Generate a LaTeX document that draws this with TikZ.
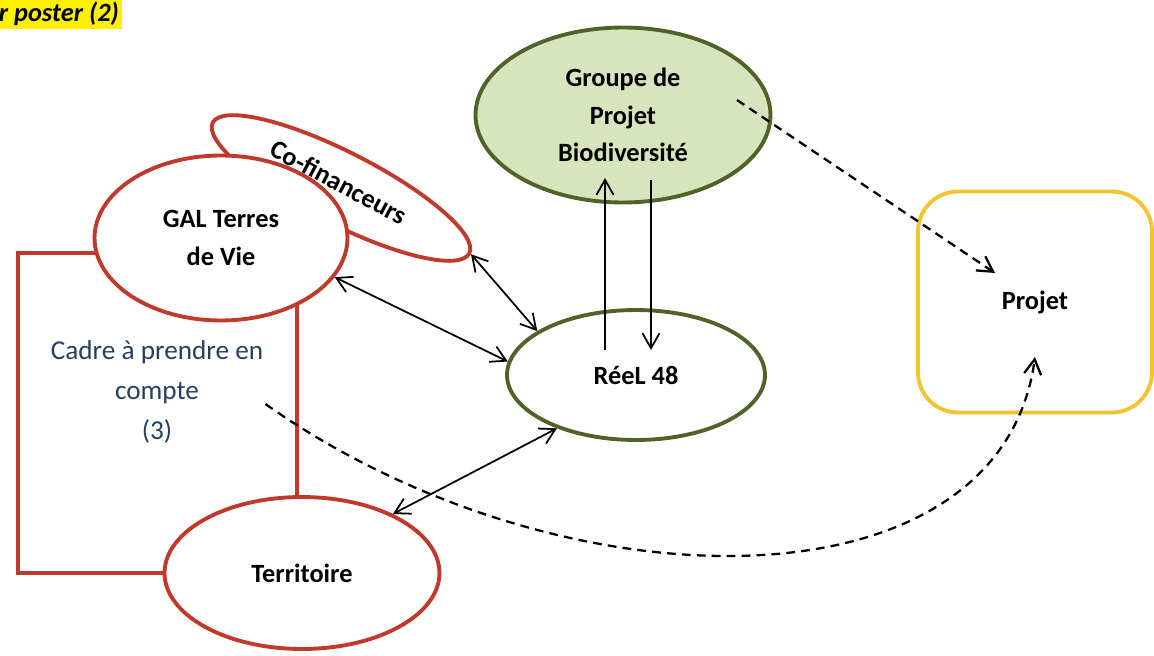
\documentclass[tikz,border=0pt]{standalone}
\usepackage{fontspec}
\setmainfont{Carlito}
\usepackage{tikz}
\usetikzlibrary{shapes.geometric,calc,arrows.meta}

\definecolor{redline}{RGB}{192,57,43}
\definecolor{greenline}{RGB}{79,98,40}
\definecolor{greenfill}{RGB}{215,228,189}
\definecolor{yellowline}{RGB}{242,196,48}
\definecolor{cadretext}{RGB}{36,63,96}
\definecolor{hlyellow}{RGB}{255,240,0}

\tikzset{
  redbubble/.style={ellipse, draw=redline, fill=white, line width=2.2pt, inner sep=0pt,
    font=\fontsize{15}{21.5}\selectfont\bfseries, align=center},
  greenbubble/.style={ellipse, draw=greenline, line width=2.2pt, inner sep=0pt,
    font=\fontsize{15}{21.5}\selectfont\bfseries, align=center},
  link/.style={line width=1pt, {Straight Barb[length=3mm,width=3.4mm]}-{Straight Barb[length=3mm,width=3.4mm]}},
  onelink/.style={line width=1pt, -{Straight Barb[length=3mm,width=3.4mm]}},
  dashlink/.style={line width=1.3pt, dash pattern=on 5pt off 3.5pt, -{Straight Barb[length=3mm,width=3.4mm]}}
}

\begin{document}
\begin{tikzpicture}[x=0.02cm, y=-0.02cm]

   \useasboundingbox (0,0) rectangle (1154,656);

   \node[fill=hlyellow, font=\fontsize{15}{18}\selectfont\bfseries\itshape, anchor=west, inner sep=2pt] (poster) at (-5,14) {r poster (2)};

   % cadre behind the red bubbles
   \draw[draw=redline, line width=2.2pt] (18,253) rectangle (297,573);
   \node[align=center, text=cadretext, inner sep=0pt, font=\fontsize{15.5}{22.7}\selectfont] (cadre) at (157,392) {Cadre à prendre en\\compte\\(3)};

   \node[redbubble, minimum width=5.76cm, minimum height=1.44cm, rotate=-27] (cofin) at (341,188) {};
   \node[redbubble, minimum width=5.06cm, minimum height=3.3cm] (gal) at (221,238) {GAL Terres\\de Vie};
   \node[redbubble, minimum width=5.5cm, minimum height=3.04cm] (territoire) at (302,573) {Territoire};
   % label of the co-financeurs bubble, on top of the GAL outline
   \node[font=\fontsize{15}{18}\selectfont\bfseries, rotate=-28, inner sep=0pt] (cofintext) at ($(cofin)+(-2,-6)$) {Co-financeurs};

   \node[greenbubble, fill=greenfill, minimum width=5.9cm, minimum height=3.5cm] (groupe) at (623,115) {Groupe de\\Projet\\Biodiversité};
   \node[greenbubble, fill=white, minimum width=5.16cm, minimum height=2.6cm] (reel) at (636,375) {RéeL 48};

   \node[draw=yellowline, line width=2.2pt, rounded corners=0.8cm, minimum width=4.68cm, minimum height=4.42cm,
     font=\fontsize{15}{21.5}\selectfont\bfseries] (projet) at (1035,302) {Projet};

   \draw[link] (gal.-19) -- (reel.174);
   \draw[link] (cofin.east) -- (reel.156);
   \draw[link] (territoire.33) -- (reel.214);
   \draw[onelink] ($(reel)+(-31,-25)$) -- ($(groupe)+(-18,63)$);
   \draw[onelink] ($(groupe)+(28,65)$) -- ($(reel)+(15,-25)$);

   \draw[dashlink] ($(groupe)+(114,-15)$) -- ($(projet)+(-40,-29)$);
   \draw[dashlink] ($(cadre.east)+(2,12)$) .. controls (560,612) and (1000,615) .. ($(projet)+(0,55)$);

\end{tikzpicture}
\end{document}
